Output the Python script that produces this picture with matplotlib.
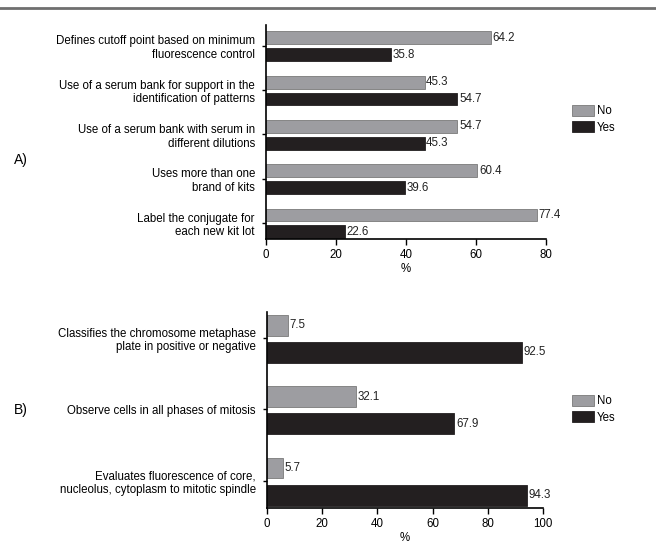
import numpy as np
import matplotlib.pyplot as plt
from matplotlib.lines import Line2D

plt.rcParams['font.family'] = ['Liberation Sans', 'DejaVu Sans']

cats_a = ["Defines cutoff point based on minimum\nfluorescence control",
          "Use of a serum bank for support in the\nidentification of patterns",
          "Use of a serum bank with serum in\ndifferent dilutions",
          "Uses more than one\nbrand of kits",
          "Label the conjugate for\neach new kit lot"]
no_a = [64.2, 45.3, 54.7, 60.4, 77.4]
yes_a = [35.8, 54.7, 45.3, 39.6, 22.6]

cats_b = ["Classifies the chromosome metaphase\nplate in positive or negative",
          "Observe cells in all phases of mitosis",
          "Evaluates fluorescence of core,\nnucleolus, cytoplasm to mitotic spindle"]
no_b = [7.5, 32.1, 5.7]
yes_b = [92.5, 67.9, 94.3]

gray = "#9d9da1"
black = "#231f20"
fs = 8.3

fig = plt.figure(figsize=(6.56, 5.42), dpi=100)
fig.add_artist(Line2D([0, 1], [1 - 8/542, 1 - 8/542], color="#6f6f6f", lw=2))


def panel(ax, cats, no, yes, xmax, xticks, ylim):
    y = np.arange(len(cats))
    b1 = ax.barh(y - 0.18, no, height=0.29, color=gray, edgecolor="#7a7a7a", linewidth=0.6, label="No")
    b2 = ax.barh(y + 0.2, yes, height=0.29, color=black, edgecolor=black, linewidth=0.6, label="Yes")
    for bars, vals in ((b1, no), (b2, yes)):
        for r, v in zip(bars, vals):
            ax.text(v + xmax * 0.006, r.get_y() + r.get_height() / 2, f"{v:.1f}",
                    va="center", ha="left", fontsize=fs, color="#222222")
    ax.set_xlim(0, xmax)
    ax.set_ylim(*ylim)
    ax.set_xticks(xticks)
    ax.set_yticks(y)
    ax.set_yticklabels(cats, fontsize=fs, ha="right")
    ax.tick_params(axis="x", labelsize=fs, length=4, width=1)
    ax.tick_params(axis="y", length=3, width=1, pad=5)
    ax.set_xlabel("%", fontsize=fs, labelpad=1)
    for s in ("top", "right"):
        ax.spines[s].set_visible(False)
    for s in ("left", "bottom"):
        ax.spines[s].set_linewidth(1.2)
    return b1, b2


ax1 = fig.add_axes([266/656, 1 - 239/542, 280/656, 214/542])
h = panel(ax1, cats_a, no_a, yes_a, 80, [0, 20, 40, 60, 80], (4.36, -0.47))
fig.legend(h, ["No", "Yes"], loc="upper left", bbox_to_anchor=(567/656, 1 - 100/542),
           frameon=False, fontsize=fs, handlelength=1.9, handleheight=1.1,
           labelspacing=0.35, handletextpad=0.3, borderaxespad=0)
fig.text(14/656, 1 - 160/542, "A)", fontsize=10, va="center")

ax2 = fig.add_axes([267/656, 1 - 508/542, 276/656, 196.3/542])
h = panel(ax2, cats_b, no_b, yes_b, 100, [0, 20, 40, 60, 80, 100], (2.38, -0.37))
fig.legend(h, ["No", "Yes"], loc="upper left", bbox_to_anchor=(567/656, 1 - 390/542),
           frameon=False, fontsize=fs, handlelength=1.9, handleheight=1.1,
           labelspacing=0.35, handletextpad=0.3, borderaxespad=0)
fig.text(14/656, 1 - 410/542, "B)", fontsize=10, va="center")

plt.savefig("out.png", dpi=100)
